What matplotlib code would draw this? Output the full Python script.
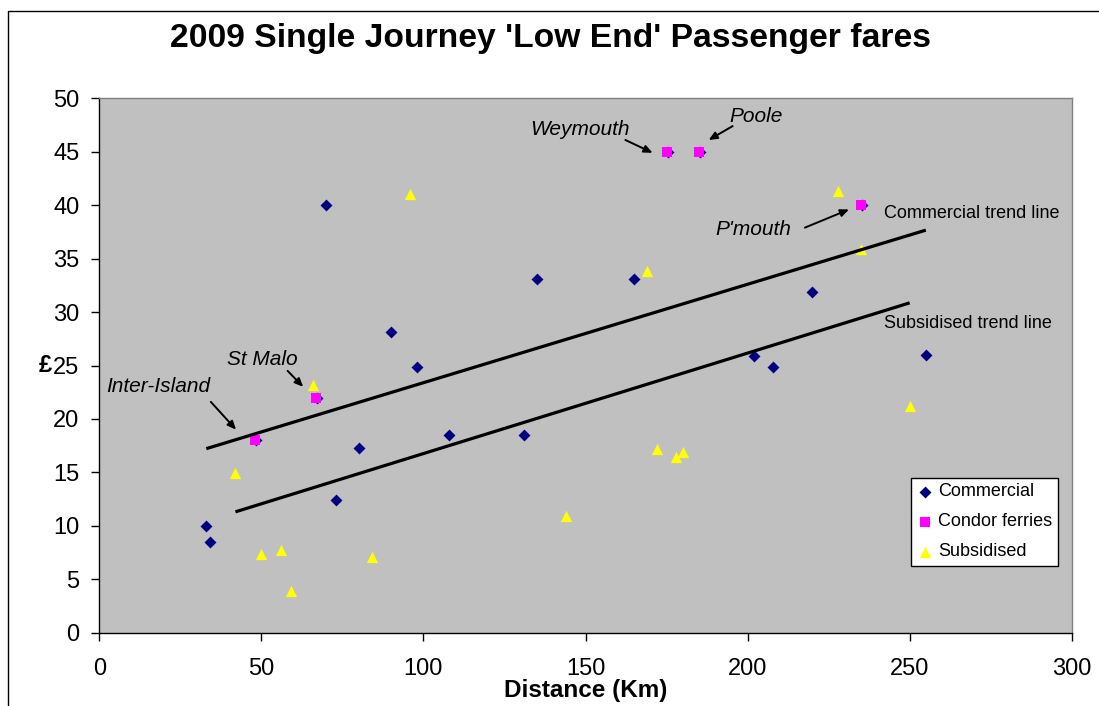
import numpy as np
import matplotlib
matplotlib.use("Agg")
import matplotlib.pyplot as plt
from matplotlib.lines import Line2D

plt.rcParams['font.family'] = ['Liberation Sans', 'DejaVu Sans']

# datos
commercial_km = [33, 34, 70, 48.3, 67.3, 73, 80, 90, 98, 108, 131, 135, 165,
                 175.3, 185.3, 202, 208, 220, 235.3, 255]
commercial_fare = [10, 8.5, 40, 18, 22, 12.4, 17.3, 28.1, 24.9, 18.5, 18.5, 33.1, 33.1,
                   45, 45, 25.9, 24.9, 31.9, 40, 26]

condor_km = [48, 67, 175, 185, 235]
condor_fare = [18, 22, 45, 45, 40]

subsidised_km = [42, 66, 50, 56, 59, 84, 96, 144, 169, 172, 178, 180, 228, 235, 250]
subsidised_fare = [14.9, 23.2, 7.4, 7.7, 3.9, 7.1, 41, 10.9, 33.8, 17.2, 16.4, 16.9,
                   41.3, 35.9, 21.2]

# lineas de tendencia (pendiente, ordenada)
commercial_trend = (0.0921, 14.18)
subsidised_trend = (0.0940, 7.36)

# etiquetas de puertos: texto, posicion texto, cola y punta de flecha
port_labels = [
    ("Weymouth", (148.2, 47.1), (162.3, 46.1), (170.7, 44.9)),
    ("Poole", (202.6, 48.3), (195.4, 47.4), (188.0, 46.1)),
    ("P'mouth", (201.8, 37.7), (217.7, 37.9), (231.3, 39.6)),
    ("St Malo", (50.3, 25.6), (58.1, 24.5), (62.9, 23.0)),
    ("Inter-Island", (18.2, 23.0), (34.4, 21.6), (42.2, 19.0)),
]

W, H = 1099, 706
fig = plt.figure(figsize=(W / 100, H / 100), dpi=100)
ax = fig.add_axes([99.3 / W, 1 - 632.7 / H, (1071.7 - 99.3) / W, (632.7 - 98.3) / H])
ax.set_facecolor('#C0C0C0')

ax.scatter(commercial_km, commercial_fare, marker='D', s=37, color='#000080',
           linewidths=0, label='Commercial', zorder=3)
ax.scatter(condor_km, condor_fare, marker='s', s=52, color='#FF00FF',
           linewidths=0, label='Condor ferries', zorder=4)
ax.scatter(subsidised_km, subsidised_fare, marker='^', s=66, color='#FFFF00',
           linewidths=0, label='Subsidised', zorder=5)

# tendencias
xc = np.array([min(commercial_km), max(commercial_km)])
ax.plot(xc, commercial_trend[0] * xc + commercial_trend[1], color='black', lw=2.3,
        solid_capstyle='butt', zorder=6)
xs = np.array([min(subsidised_km), max(subsidised_km)])
ax.plot(xs, subsidised_trend[0] * xs + subsidised_trend[1], color='black', lw=2.3,
        solid_capstyle='butt', zorder=6)

ax.text(242.2, 39.2, "Commercial trend line", fontsize=13, ha='left', va='center')
ax.text(242.2, 28.9, "Subsidised trend line", fontsize=13, ha='left', va='center')

for name, txt_pos, tail, head in port_labels:
    ax.text(txt_pos[0], txt_pos[1], name, fontsize=15, style='italic',
            ha='center', va='center')
    ax.annotate("", xy=head, xytext=tail,
                arrowprops=dict(arrowstyle='-|>,head_length=0.5,head_width=0.22',
                                color='black', lw=1.4, shrinkA=0, shrinkB=0))

ax.set_xlim(0, 300)
ax.set_ylim(0, 50)
ax.set_xticks(np.arange(0, 301, 50))
ax.set_yticks(np.arange(0, 51, 5))
ax.tick_params(axis='both', direction='out', length=6, width=1, colors='black',
               labelsize=17)
ax.tick_params(axis='y', pad=8.4)
ax.tick_params(axis='x', pad=12.5)

for s in ['left', 'bottom']:
    ax.spines[s].set_color('black')
    ax.spines[s].set_linewidth(1)
for s in ['top', 'right']:
    ax.spines[s].set_color('#808080')
    ax.spines[s].set_linewidth(1)

leg = ax.legend(loc='upper left', bbox_to_anchor=(911 / W, 1 - 478 / H),
                bbox_transform=fig.transFigure, fontsize=13, frameon=True,
                fancybox=False, framealpha=1, edgecolor='black', borderpad=0.3,
                labelspacing=0.72, handlelength=0.9, handletextpad=0.3,
                borderaxespad=0, scatterpoints=1)
leg.get_frame().set_linewidth(1)

fig.text(550.5 / W, 1 - 47 / H, "2009 Single Journey 'Low End' Passenger fares",
         fontsize=24.2, fontweight='bold', ha='center', va='baseline')
fig.text(586 / W, 1 - 697 / H, "Distance (Km)", fontsize=17.5, fontweight='bold',
         ha='center', va='baseline')
fig.text(45 / W, 1 - 365 / H, "£", fontsize=17, fontweight='bold',
         ha='center', va='center')

# borde del area del grafico
fig.add_artist(Line2D([8 / W, 8 / W, 1.0], [0.0, 1 - 11 / H, 1 - 11 / H],
                      transform=fig.transFigure, color='black', lw=1))

fig.savefig("out.png", dpi=100)
